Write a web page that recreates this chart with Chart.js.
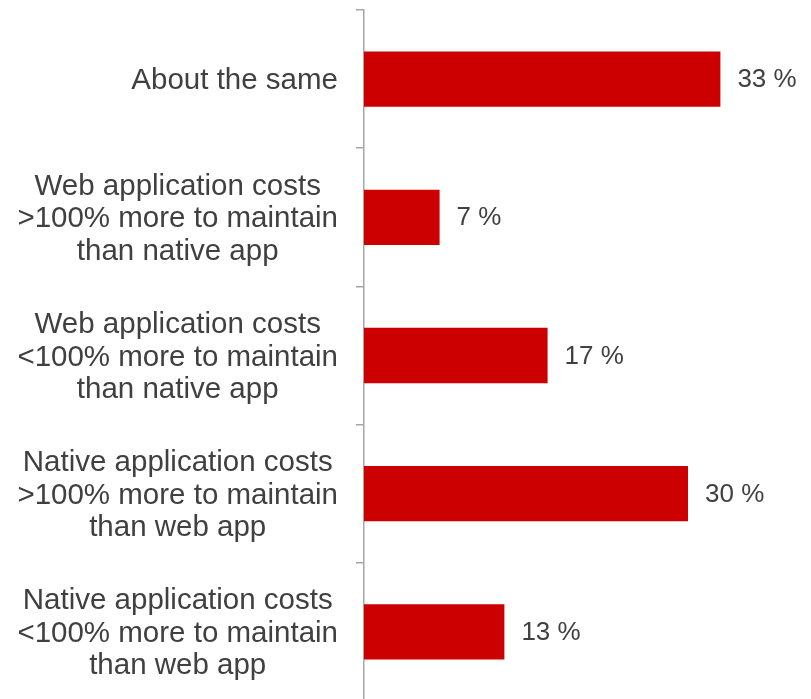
<!DOCTYPE html>
<html>
<head>
<meta charset="utf-8">
<script src="https://cdn.jsdelivr.net/npm/chart.js@4/dist/chart.umd.min.js"></script>
<style>
  html, body { margin: 0; padding: 0; background: #fff; overflow: hidden; }
  #wrap { width: 811px; height: 699px; overflow: hidden; }
</style>
</head>
<body>
<div id="wrap"><canvas id="costChart" width="811" height="701"></canvas></div>
<script>
// Survey answers, one bar per answer
const answers = [
  ["About the same"],
  ["Web application costs", ">100% more to maintain", "than native app"],
  ["Web application costs", "<100% more to maintain", "than native app"],
  ["Native application costs", ">100% more to maintain", "than web app"],
  ["Native application costs", "<100% more to maintain", "than web app"]
];
const shares = [33, 7, 17, 30, 13];

const textColor = "#404040";
const axisColor = "#a6a6a6";
const fontFamily = "'Liberation Sans', Arial, sans-serif";

// Category labels: each block right-aligned to the axis, lines centred inside the block
const answerLabels = {
  id: "answerLabels",
  afterDraw(chart) {
    const ctx = chart.ctx;
    const yScale = chart.scales.y;
    const right = yScale.right - 26;
    const lineGap = 32.5;
    ctx.save();
    ctx.font = "29.5px " + fontFamily;
    ctx.fillStyle = textColor;
    ctx.textAlign = "center";
    ctx.textBaseline = "alphabetic";
    answers.forEach((lines, i) => {
      const cy = yScale.getPixelForTick(i);
      const widest = Math.max(...lines.map((l) => ctx.measureText(l).width));
      const cx = right - widest / 2;
      lines.forEach((line, j) => {
        const base = cy + 10 + (j - (lines.length - 1) / 2) * lineGap;
        ctx.fillText(line, cx, base);
      });
    });
    ctx.restore();
  }
};

// Writes "NN %" just to the right of every bar
const valueLabels = {
  id: "valueLabels",
  afterDatasetsDraw(chart) {
    const ctx = chart.ctx;
    const meta = chart.getDatasetMeta(0);
    ctx.save();
    ctx.font = "26px " + fontFamily;
    ctx.fillStyle = textColor;
    ctx.textAlign = "left";
    ctx.textBaseline = "middle";
    meta.data.forEach((bar, i) => {
      ctx.fillText(shares[i] + " %", bar.x + 17, bar.y + 1);
    });
    ctx.restore();
  }
};

const ctx = document.getElementById("costChart").getContext("2d");
new Chart(ctx, {
  type: "bar",
  data: {
    labels: answers,
    datasets: [{
      data: shares,
      backgroundColor: "#cc0000",
      borderWidth: 0,
      barPercentage: 0.4,
      categoryPercentage: 1.0
    }]
  },
  options: {
    indexAxis: "y",
    responsive: false,
    animation: false,
    layout: { padding: { top: 10, right: 69, bottom: 0, left: 0 } },
    plugins: {
      legend: { display: false },
      tooltip: { enabled: false }
    },
    scales: {
      x: {
        display: false,
        min: 0,
        max: 35
      },
      y: {
        // fixed label column, no extra room above/below the bars
        afterFit(scale) {
          scale.width = 364;
          scale.paddingTop = 0;
          scale.paddingBottom = 0;
        },
        border: { display: true, color: axisColor, width: 1.5 },
        grid: {
          drawOnChartArea: false,
          drawTicks: true,
          tickLength: 8,
          color: axisColor,
          lineWidth: 1.5,
          offset: true
        },
        ticks: {
          display: false,
          autoSkip: false
        }
      }
    }
  },
  plugins: [answerLabels, valueLabels]
});
</script>
</body>
</html>
